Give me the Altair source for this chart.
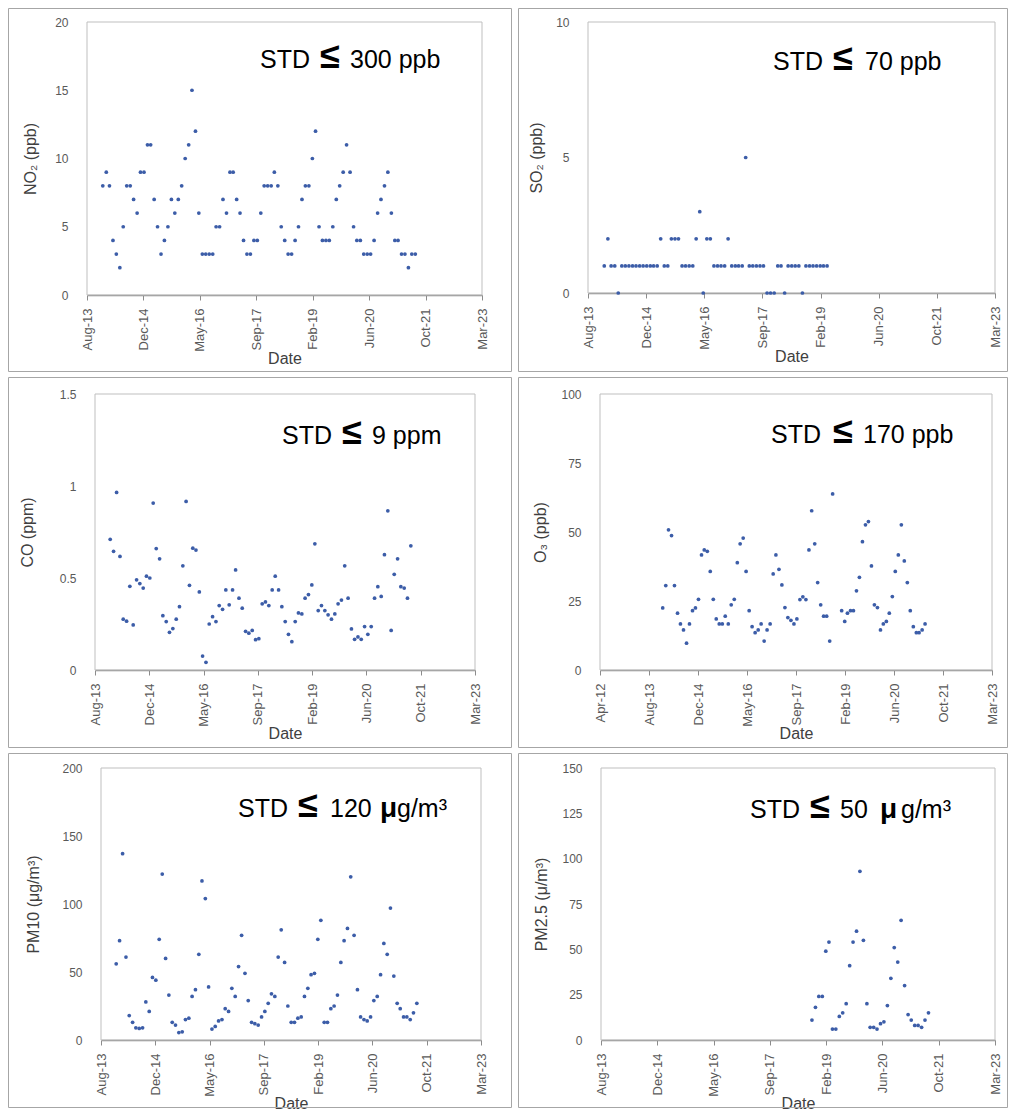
import altair as alt
import pandas as pd

FONT = "Liberation Sans"
BLUE = "#3c5da8"

# ---------------- data ----------------
tick_dates = ["2012-04-01", "2013-08-14", "2014-12-27", "2016-05-10", "2017-09-22",
              "2019-02-04", "2020-06-18", "2021-10-31", "2023-03-15"]

months = pd.date_range("2014-01-01", periods=92, freq="MS")  # Jan-2014 .. Aug-2021

no2_values = [8, 9, 8, 4, 3, 2, 5, 8, 8, 7, 6, 9, 9, 11, 11, 7, 5, 3, 4, 5,
              7, 6, 7, 8, 10, 11, 15, 12, 6, 3, 3, 3, 3, 5, 5, 7, 6, 9, 9, 7,
              6, 4, 3, 3, 4, 4, 6, 8, 8, 8, 9, 8, 5, 4, 3, 3, 4, 5, 7, 8,
              8, 10, 12, 5, 4, 4, 4, 5, 7, 8, 9, 11, 9, 5, 4, 4, 3, 3, 3, 4,
              6, 7, 8, 9, 6, 4, 4, 3, 3, 2, 3, 3]

so2_values = [1, 2, 1, 1, 0, 1, 1, 1, 1, 1, 1, 1, 1, 1, 1, 1, 2, 1, 1, 2,
              2, 2, 1, 1, 1, 1, 2, 3, 0, 2, 2, 1, 1, 1, 1, 2, 1, 1, 1, 1,
              5, 1, 1, 1, 1, 1, 0, 0, 0, 1, 1, 0, 1, 1, 1, 1, 0, 1, 1, 1,
              1, 1, 1, 1]

co_values = [0.71, 0.645, 0.965, 0.617, 0.276, 0.265, 0.455, 0.245, 0.49, 0.47,
             0.445, 0.51, 0.50, 0.907, 0.66, 0.604, 0.295, 0.263, 0.205, 0.225,
             0.276, 0.344, 0.566, 0.916, 0.46, 0.662, 0.652, 0.424, 0.076, 0.042,
             0.25, 0.29, 0.263, 0.35, 0.33, 0.435, 0.354, 0.435, 0.544, 0.39,
             0.336, 0.21, 0.2, 0.215, 0.165, 0.17, 0.36, 0.37, 0.35, 0.435,
             0.51, 0.435, 0.344, 0.263, 0.194, 0.154, 0.263, 0.31, 0.305, 0.39,
             0.41, 0.462, 0.686, 0.323, 0.35, 0.323, 0.3, 0.276, 0.305, 0.36,
             0.38, 0.566, 0.39, 0.223, 0.167, 0.18, 0.167, 0.236, 0.194, 0.236,
             0.39, 0.453, 0.40, 0.627, 0.865, 0.215, 0.52, 0.604, 0.453, 0.445,
             0.39, 0.675]

o3_values = [22.5, 30.6, 50.8, 48.7, 30.6, 20.6, 16.7, 14.5, 9.7, 16.7,
             21.5, 22.5, 25.6, 41.7, 43.5, 43.0, 35.7, 25.6, 18.5, 16.7,
             16.7, 19.5, 16.7, 23.6, 25.6, 38.9, 45.7, 47.8, 35.7, 21.5,
             15.7, 13.5, 14.5, 16.7, 10.5, 14.5, 16.7, 34.8, 41.7, 36.5,
             30.8, 22.6, 19.0, 18.0, 16.7, 18.5, 25.5, 26.5, 25.5, 43.5,
             57.7, 45.7, 31.7, 23.6, 19.5, 19.5, 10.5, 63.8, None, None,
             21.5, 17.6, 20.6, 21.5, 21.5, 28.7, 33.6, 46.5, 52.6, 53.8,
             37.7, 23.6, 22.6, 14.5, 16.7, 17.6, 20.6, 26.6, 35.7, 41.7,
             52.6, 39.5, 31.7, 21.5, 15.7, 13.5, 13.5, 14.5, 16.7]

pm10_values = [56, 73, 137, 61, 18, 13, 9, 8.5, 9, 28, 21, 46, 44, 74, 122, 60, 33, 13, 11, 5.5,
               6, 15, 16, 32, 37, 63, 117, 104, 39, 8, 10, 14, 15, 23, 21, 38, 32, 54, 77, 49,
               29, 13, 12, 11, 17, 21, 27, 34, 32, 61, 81, 57, 25, 13, 13, 16, 17, 32, 38, 48,
               49, 74, 88, 13, 13, 23, 25, 33, 57, 73, 82, 120, 77, 37, 17, 15, 14, 17, 29, 32,
               48, 71, 63, 97, 47, 27, 23, 17, 17, 15, 20, 27]

pm25_start = 57  # Oct-2018
pm25_values = [11, 18, 24, 24, 49, 54, 6, 6, 13, 15, 20, 41, 54, 60, 93, 55, 20, 7, 7, 6,
               9, 10, 19, 34, 51, 43, 66, 30, 14, 11, 8, 8, 7, 11, 15]


def dt(s):
    y, m, d = (int(v) for v in s.split("-"))
    return alt.DateTime(year=y, month=m, date=d)


def frame(dates, values):
    df = pd.DataFrame({"date": list(dates), "value": values})
    return df.dropna()


one = pd.DataFrame({"k": [0]})

# cell extents around the panel origin (same within a column / row)
COL = {1: (79, 425), 2: (70, 420)}
ROW = {1: (14, 350), 2: (17, 354), 3: (15, 340)}


def panel(df, ytitle, ymax, ystep, a, Wg, H, col, row, ytp, pieces, base_y, o3=False):
    left, right = COL[col]
    top, bottom = ROW[row]
    ticks = tick_dates if o3 else tick_dates[1:]
    yticks = [i * ystep for i in range(int(round(ymax / ystep)) + 1)]
    pts = alt.Chart(df).mark_circle(size=14, color=BLUE, opacity=1).encode(
        x=alt.X("date:T",
                scale=alt.Scale(domain=[dt(ticks[0]), dt(ticks[-1])], nice=False,
                                range=[a, Wg]),
                axis=alt.Axis(values=[dt(t) for t in ticks], format="%b-%y",
                              labelAngle=270, title="Date", grid=False,
                              domainColor="#8c8c8c", domainWidth=1.5,
                              tickColor="#8c8c8c", tickSize=5, labelPadding=8,
                              labelFontSize=13, labelColor="#595959", labelFont=FONT,
                              labelOverlap=False, labelFlush=False,
                              titleFont=FONT, titleFontSize=16, titleFontWeight="normal",
                              titleColor="#404040", titlePadding=-1)),
        y=alt.Y("value:Q",
                scale=alt.Scale(domain=[0, ymax], nice=False),
                axis=alt.Axis(values=yticks, format=".2~f", title=ytitle, grid=False,
                              domain=False, ticks=False, tickSize=0, labelPadding=19,
                              labelFontSize=12, labelColor="#595959", labelFont=FONT,
                              titleFont=FONT, titleFontSize=16, titleFontWeight="normal",
                              titleColor="#404040", titlePadding=ytp,
                              minExtent=40, maxExtent=40, offset=-a)),
    )
    box = alt.Chart(one).mark_rect(fillOpacity=0, stroke="#bfbfbf", strokeWidth=1).encode(
        x=alt.value(a), x2=alt.value(Wg), y=alt.value(0), y2=alt.value(H))
    layers = [box, pts]
    for (t, xr, fs, bold) in pieces:
        layers.append(
            alt.Chart(one).mark_text(align="left", baseline="alphabetic", font=FONT,
                                     fontSize=fs, fontWeight="bold" if bold else "normal",
                                     color="black").encode(
                x=alt.value(a + xr), y=alt.value(base_y), text=alt.value(t))
        )
    border = alt.Chart(one).mark_rect(fillOpacity=0, stroke="#a6a6a6", strokeWidth=1).encode(
        x=alt.value(-left + 0.5), x2=alt.value(right - 0.5),
        y=alt.value(-top + 0.5), y2=alt.value(bottom - 0.5))
    layers.append(border)
    return alt.layer(*layers).properties(width=Wg, height=H)


p1 = panel(frame(months, no2_values), "NO₂ (ppb)", 20, 5,
           0, 395, 273, 1, 1, 9,
           [("STD", 173, 25, False), ("≤", 233, 36, True), ("300 ppb", 263, 25, False)], 46)
p2 = panel(frame(months[:len(so2_values)], so2_values), "SO₂ (ppb)", 10, 5,
           0, 407, 271, 2, 1, 4,
           [("STD", 185, 25, False), ("≤", 245, 36, True), ("70 ppb", 277, 25, False)], 48)
p3 = panel(frame(months, co_values), "CO (ppm)", 1.5, 0.5,
           8, 388, 276, 1, 2, 20,
           [("STD", 187, 25, False), ("≤", 247, 36, True), ("9 ppm", 277, 25, False)], 50)
p4 = panel(frame(months[:len(o3_values)], o3_values), "O₃ (ppb)", 100, 25,
           12, 404, 276, 2, 2, 12,
           [("STD", 171, 25, False), ("≤", 233, 36, True), ("170 ppb", 263, 25, False)], 49,
           o3=True)
p5 = panel(frame(months, pm10_values), "PM10 (μg/m³)", 200, 50,
           14, 394, 272, 1, 3, 20,
           [("STD", 137, 25, False), ("≤", 197, 36, True), ("120", 229, 25, False),
            ("μ", 279, 28, True), ("g/m³", 296, 25, False)], 49)
p6 = panel(frame(months[pm25_start:pm25_start + len(pm25_values)], pm25_values),
           "PM2.5 (μ/m³)", 150, 25,
           13, 407, 272, 2, 3, 12,
           [("STD", 149, 25, False), ("≤", 209, 36, True), ("50", 239, 25, False),
            ("μ", 279, 28, True), ("g/m³", 300, 25, False)], 50)

chart = alt.concat(
    p1, p2, p3, p4, p5, p6,
    columns=2,
    spacing=alt.RowColnumber(row=5, column=6),
).properties(padding=0).configure_view(strokeWidth=0)

chart.save("out.html", embed_options={"renderer": "svg", "actions": False})
